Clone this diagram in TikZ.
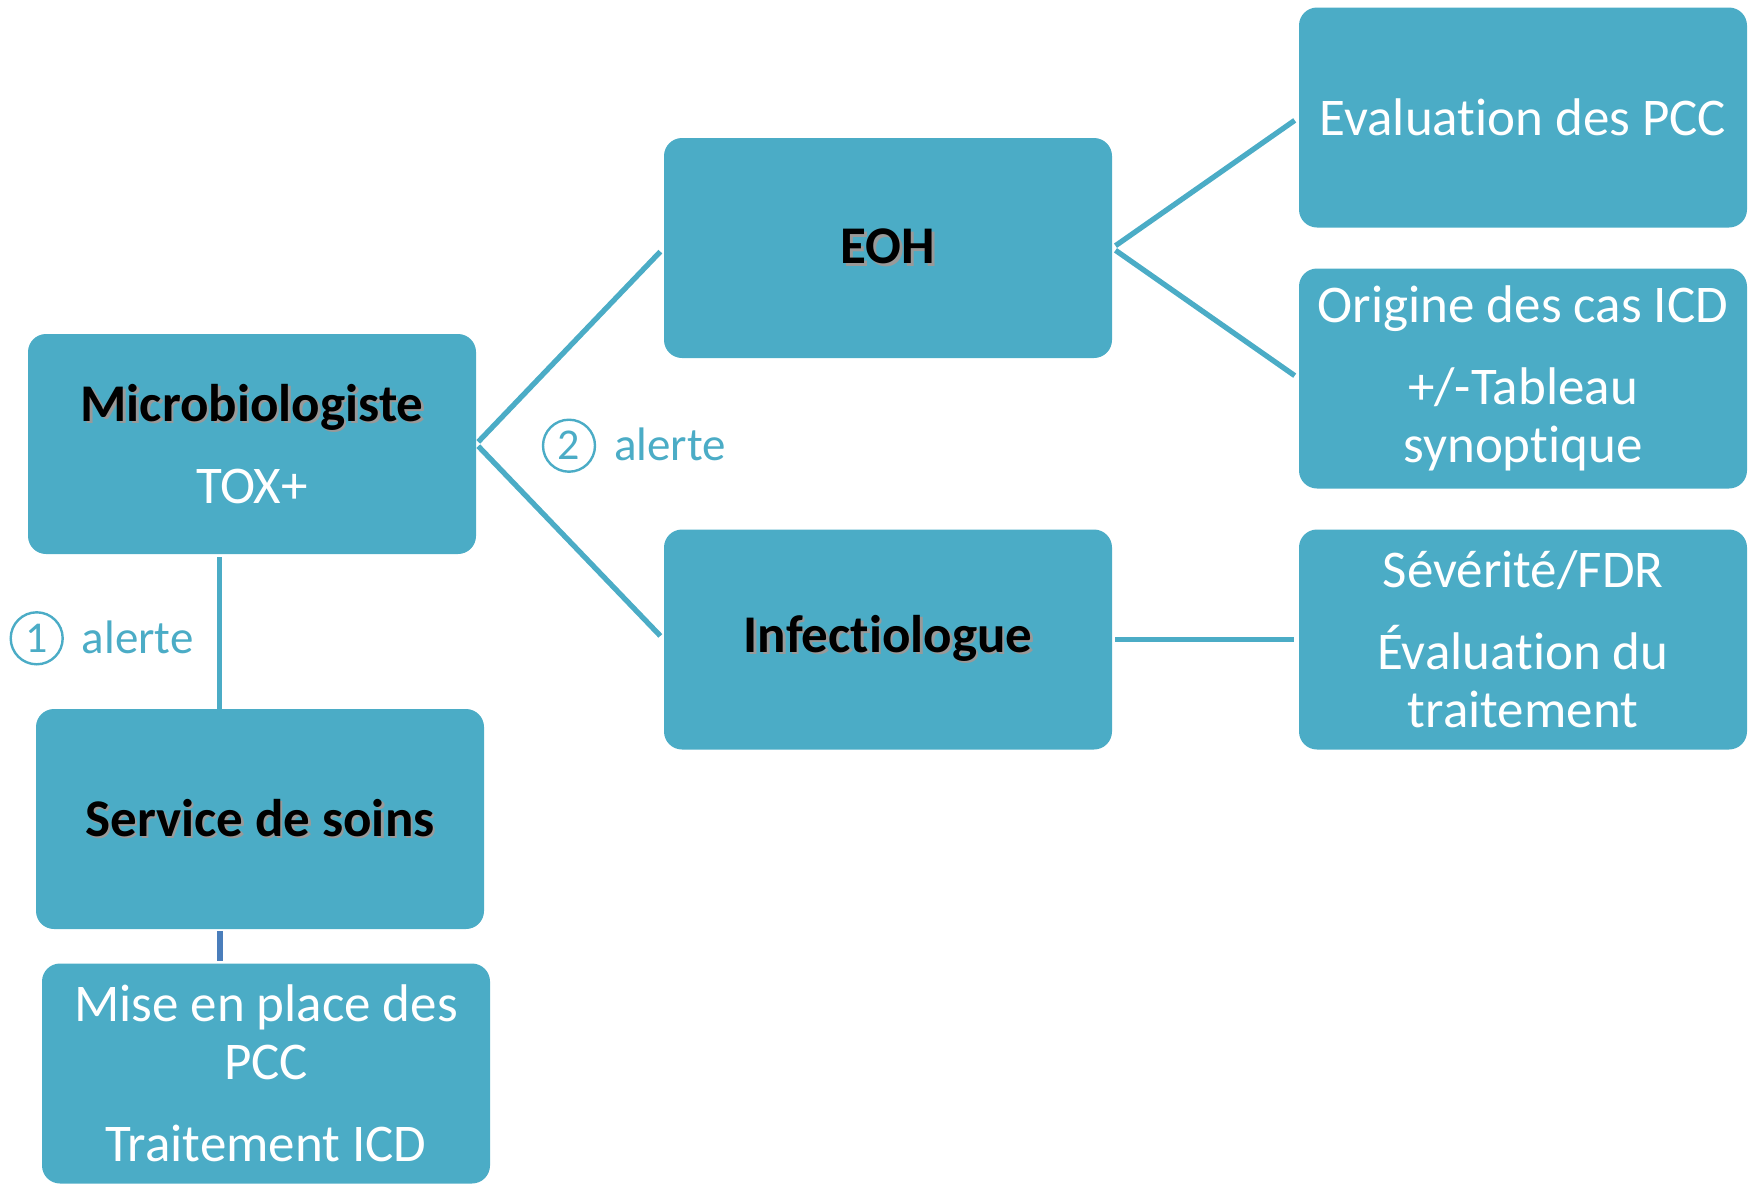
\documentclass[tikz,border=0pt]{standalone}
\usepackage{fontspec}
\setmainfont{Carlito}[Ligatures={NoCommon,NoRequired,NoContextual}, Contextuals=NoAlternate]
\usetikzlibrary{calc}
\definecolor{boxc}{RGB}{75,172,198}
\definecolor{linkc}{RGB}{74,126,187}
\newcommand{\shd}[1]{\leavevmode\rlap{\kern2.5pt\raisebox{-2.5pt}{\textcolor{black!40}{#1}}}#1}
\newcommand{\ttl}[1]{{\color{black}\shd{\textbf{#1}}}}
\tikzset{
  box/.style={draw=none, fill=boxc, rounded corners=18pt, minimum width=448pt,
    minimum height=220pt, inner sep=0pt, text=white, align=center,
    font=\fontsize{53}{58}\selectfont},
  conn/.style={draw=boxc, line width=5.3pt},
  conn2/.style={draw=linkc, line width=6pt},
  numc/.style={circle, draw=boxc, line width=2.4pt, minimum size=52pt, inner sep=0pt,
    text=boxc, font=\fontsize{44}{48}\selectfont},
  lbl/.style={anchor=west, inner sep=0pt, text=boxc, font=\fontsize{47}{52}\selectfont}
}
\begin{document}
\begin{tikzpicture}[x=1pt,y=-1pt]
\useasboundingbox (0,0) rectangle (1756,1184);
% boxes
\node[box] (micro) at (252,444) {\ttl{Microbiologiste}\\[24pt]TOX+};
\node[box] (serv) at (260,819) {\ttl{Service de soins}};
\node[box] (mise) at (266,1073.5) {Mise en place des\\PCC\\[24pt]Traitement ICD};
\node[box] (eoh) at (888,248) {\ttl{EOH}};
\node[box] (inf) at (888,639.5) {\ttl{Infectiologue}};
\node[box] (eval) at (1523,117.5) {Evaluation des PCC};
\node[box] (orig) at (1523,378.5) {Origine des cas ICD\\[24pt]+/-Tableau\\synoptique};
\node[box] (sev) at (1523,639.5) {Sévérité/FDR\\[24pt]Évaluation du\\traitement};
% connectors
\draw[conn, shorten <=3pt, shorten >=5pt] (micro.east) -- (eoh.west);
\draw[conn, shorten <=3pt, shorten >=5pt] (micro.east) -- (inf.west);
\draw[conn, shorten <=4pt, shorten >=5pt] (eoh.east) -- (eval.west);
\draw[conn, shorten <=4pt, shorten >=5pt] (eoh.east) -- (orig.west);
\draw[conn, shorten <=3pt, shorten >=5pt] (inf.east) -- (sev.west);
\draw[conn, shorten <=3pt] ([xshift=-32.5pt]micro.south) -- ([xshift=-32.5pt]micro.south |- serv.north);
\draw[conn2, shorten <=2pt, shorten >=2pt] ([xshift=-40.5pt]serv.south) -- ([xshift=-40.5pt]serv.south |- mise.north);
% labels
\node[numc] (n1) at (36.7,638.3) {1};
\node[lbl] (a1) at (81.7,637) {alerte};
\node[numc] (n2) at (569,445.7) {2};
\node[lbl] (a2) at (614,444.5) {alerte};
\end{tikzpicture}
\end{document}
